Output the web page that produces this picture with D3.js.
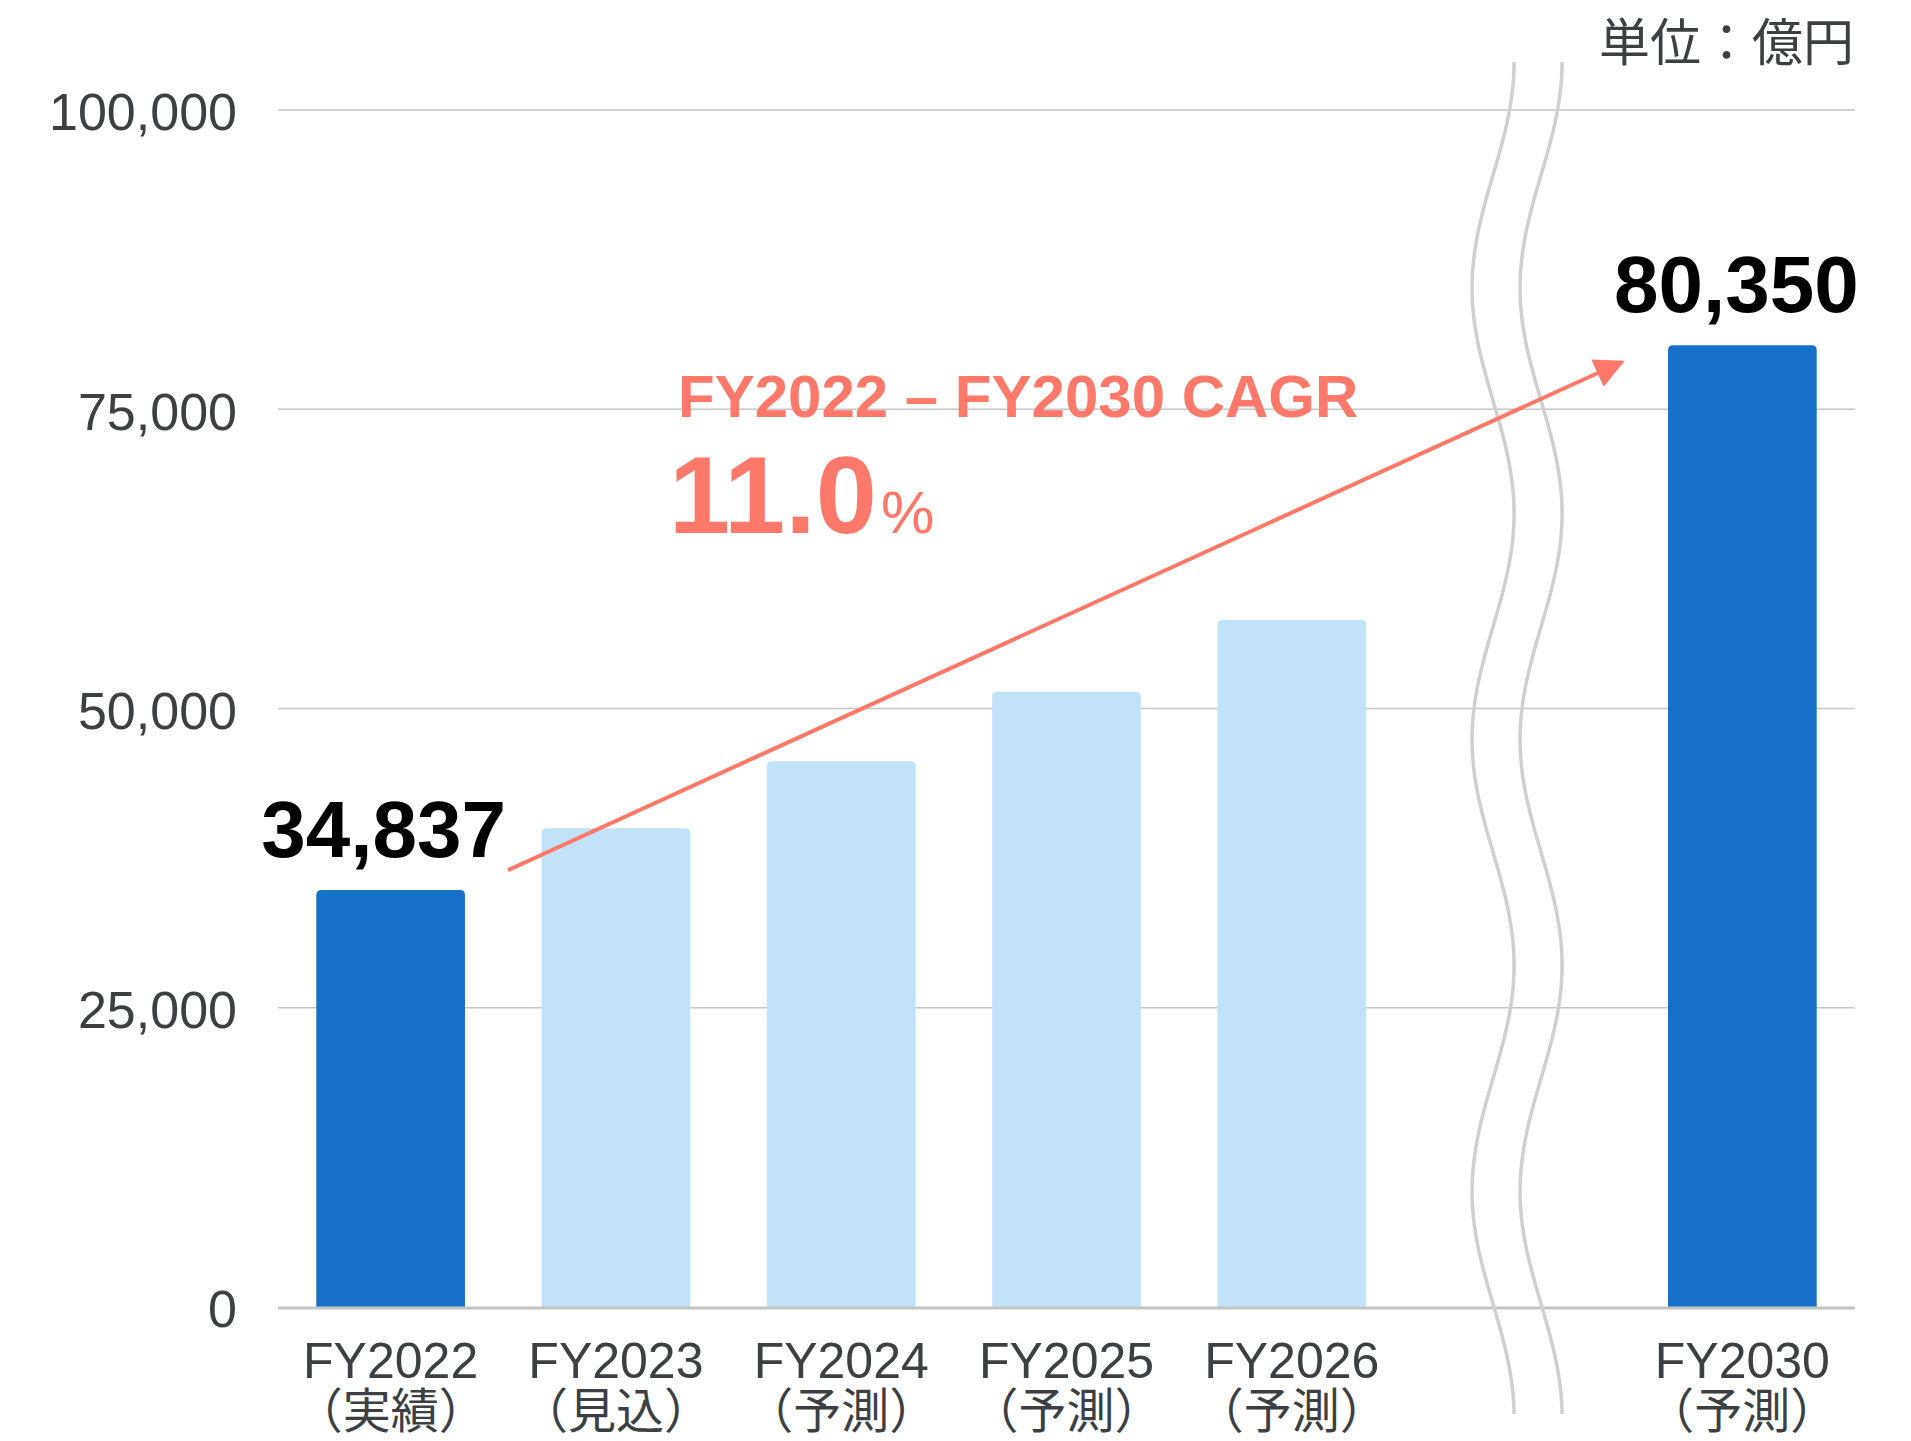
<!DOCTYPE html>
<html lang="ja">
<head>
<meta charset="utf-8">
<title>売上推移</title>
<script src="https://cdn.jsdelivr.net/npm/d3@7"></script>
<style>
  html, body { margin: 0; padding: 0; background: #ffffff; }
  svg { display: block; }
</style>
</head>
<body>
<div id="chart"></div>
<script>
// Fiscal-year categories, their sub-labels and values (unit: 億円)
const categories = ["FY2022", "FY2023", "FY2024", "FY2025", "FY2026", "FY2030"];
const subLabels = ["（実績）", "（見込）", "（予測）", "（予測）", "（予測）", "（予測）"];
const values = [34837, 40000, 45600, 51400, 57400, 80350];
const labelled = [true, false, false, false, false, true];
const yTicks = [0, 25000, 50000, 75000, 100000];
const unitText = "単位：億円";
const cagrTitle = "FY2022 – FY2030 CAGR";
const cagrValue = "11.0";

// The x axis reserves one empty slot for the axis break between FY2026 and FY2030
const breakSlot = "~";
const xSlots = [...categories.slice(0, 5), breakSlot, categories[5]];

const width = 1911, height = 1441;
const latin = "'Liberation Sans', Arial, Helvetica, sans-serif";
const cjk = "'Liberation Sans', 'Noto Sans CJK JP', sans-serif";
const textGray = "#3c4043";
const darkBlue = "#1770c9";
const lightBlue = "#c2e2f7";
const salmon = "#ff796b";

const svg = d3.select("#chart").append("svg")
  .attr("width", width).attr("height", height)
  .attr("viewBox", [0, 0, width, height]);

const x = d3.scaleBand().domain(xSlots).range([278, 1855])
  .paddingInner(0.34).paddingOuter(0.17);
const y = d3.scaleLinear().domain([0, 100000]).range([1307, 110]);

// horizontal gridlines
svg.append("g")
  .selectAll("line")
  .data(yTicks.filter(d => d > 0))
  .join("line")
  .attr("x1", x.range()[0]).attr("x2", x.range()[1])
  .attr("y1", d => y(d)).attr("y2", d => y(d))
  .attr("stroke", "#c6c6c6").attr("stroke-width", 1.5);

// y-axis tick labels
const yAxis = svg.append("g")
  .attr("transform", `translate(${x.range()[0]},0)`)
  .call(d3.axisLeft(y).tickValues(yTicks).tickSize(0).tickPadding(41)
    .tickFormat(d3.format(",")));
yAxis.select(".domain").remove();
yAxis.selectAll("text")
  .attr("font-family", latin).attr("font-size", 52)
  .attr("fill", textGray).attr("dy", "0.38em");

// bars with slightly rounded top corners
const r = 5;
function barPath(d, i) {
  const x0 = x(categories[i]), w = x.bandwidth();
  const y0 = y(d), y1 = y(0);
  return `M${x0},${y1}V${y0 + r}Q${x0},${y0} ${x0 + r},${y0}` +
         `H${x0 + w - r}Q${x0 + w},${y0} ${x0 + w},${y0 + r}V${y1}Z`;
}
svg.append("g")
  .selectAll("path")
  .data(values)
  .join("path")
  .attr("d", barPath)
  .attr("fill", (d, i) => labelled[i] ? darkBlue : lightBlue);

// baseline
svg.append("line")
  .attr("x1", x.range()[0]).attr("x2", x.range()[1])
  .attr("y1", y(0) + 1).attr("y2", y(0) + 1)
  .attr("stroke", "#c3c3c3").attr("stroke-width", 3);

// axis break marks: two wavy lines through the empty slot
const breakCenter = x(breakSlot) + x.bandwidth() / 2;
const waveTop = 62, waveBottom = 1417, halfPeriod = (waveBottom - waveTop) / 6, amp = 21;
[-24, 24].forEach(off => {
  const pts = d3.range(waveTop, waveBottom + 1, 4).map(yy =>
    [breakCenter + off + amp * Math.cos(Math.PI * (yy - waveTop) / halfPeriod), yy]);
  svg.append("path")
    .attr("d", d3.line().curve(d3.curveBasis)(pts))
    .attr("fill", "none").attr("stroke", "#d0d0d0").attr("stroke-width", 3.5);
});

// value labels above the highlighted bars
svg.append("g")
  .selectAll("text")
  .data(values.map((v, i) => ({ v, i })).filter(d => labelled[d.i]))
  .join("text")
  .attr("x", d => x(categories[d.i]) + x.bandwidth() / 2 - (d.i === 0 ? 7 : 6))
  .attr("y", d => y(d.v) - 33)
  .attr("text-anchor", "middle")
  .attr("font-family", latin).attr("font-weight", "bold").attr("font-size", 80)
  .attr("fill", "#000")
  .text(d => d3.format(",")(d.v));

// x-axis category labels (two lines)
const xl = svg.append("g")
  .selectAll("text")
  .data(categories)
  .join("text")
  .attr("text-anchor", "middle")
  .attr("fill", textGray);
xl.append("tspan")
  .attr("x", d => x(d) + x.bandwidth() / 2)
  .attr("y", 1378)
  .attr("font-size", 50)
  .attr("font-family", latin)
  .text(d => d);
xl.append("tspan")
  .attr("x", d => x(d) + x.bandwidth() / 2)
  .attr("y", 1428)
  .attr("font-size", 48)
  .attr("font-family", cjk)
  .text((d, i) => subLabels[i]);

// unit label
svg.append("text")
  .attr("x", 1854).attr("y", 61)
  .attr("text-anchor", "end")
  .attr("font-family", "'Noto Sans CJK JP', sans-serif")
  .attr("font-size", 51)
  .attr("fill", textGray)
  .text(unitText);

// CAGR arrow
svg.append("defs").append("marker")
  .attr("id", "head")
  .attr("viewBox", "0 0 10 10")
  .attr("refX", 9).attr("refY", 5)
  .attr("markerWidth", 7.5).attr("markerHeight", 7.5)
  .attr("markerUnits", "strokeWidth")
  .attr("orient", "auto")
  .append("path").attr("d", "M0,0L10,5L0,10Z").attr("fill", salmon);

const ax0 = x(categories[0]) + x.bandwidth() + 43, ay0 = y(36500);
const ax1 = x(categories[5]) - 46, ay1 = y(78950);
svg.append("line")
  .attr("x1", ax0).attr("y1", ay0).attr("x2", ax1).attr("y2", ay1)
  .attr("stroke", salmon).attr("stroke-width", 4)
  .attr("marker-end", "url(#head)");

// CAGR annotation
svg.append("text")
  .attr("x", 678).attr("y", 417)
  .attr("font-family", latin).attr("font-weight", "bold").attr("font-size", 60)
  .attr("fill", salmon)
  .text(cagrTitle);
const big = svg.append("text")
  .attr("x", 669).attr("y", 533)
  .attr("font-family", latin)
  .attr("fill", salmon);
big.append("tspan").attr("font-size", 110).attr("font-weight", "bold").text(cagrValue);
big.append("tspan").attr("font-size", 60).attr("dx", 4).text("%");
</script>
</body>
</html>
